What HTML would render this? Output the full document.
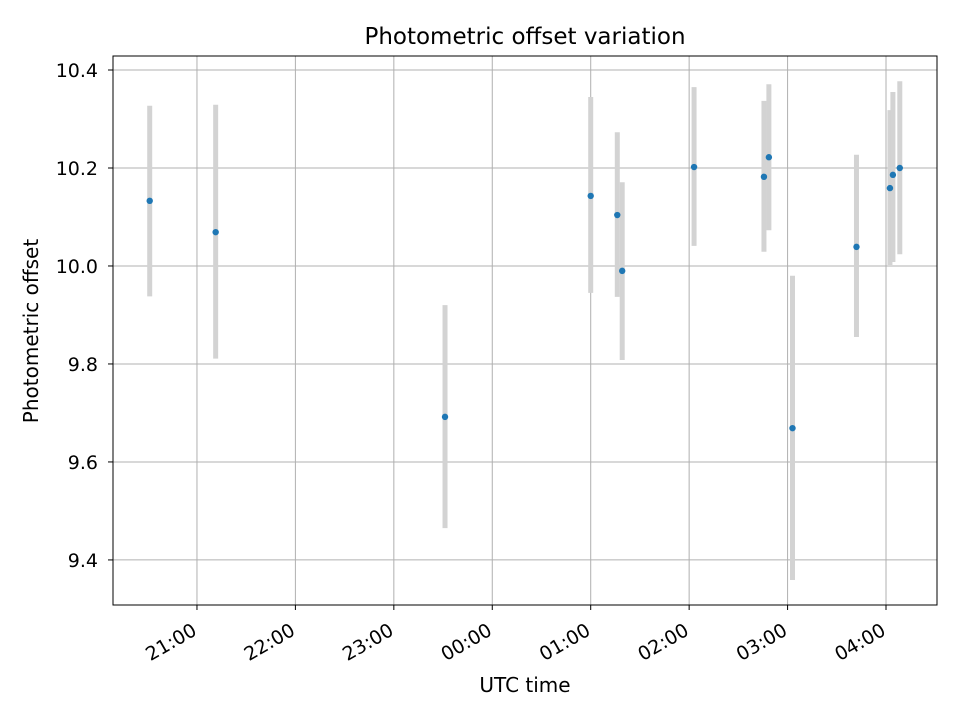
<!DOCTYPE html>
<html><head><meta charset="utf-8"><style>
body{margin:0;background:#fff;font-family:"DejaVu Sans","Liberation Sans",sans-serif}
</style></head><body>
<svg id="chart" width="960" height="720" xmlns="http://www.w3.org/2000/svg" font-family="'DejaVu Sans', 'Liberation Sans', sans-serif">
<rect width="960" height="720" fill="#fff"/>
<g id="grid"></g>
<g id="errs"></g>
<g id="pts"></g>
<rect x="113" y="56" width="824" height="549" fill="none" stroke="#000" stroke-width="1"/>
<g id="ticks"></g>
<text x="525" y="44" text-anchor="middle" font-size="23">Photometric offset variation</text>
<text x="525" y="692" text-anchor="middle" font-size="20">UTC time</text>
<text transform="translate(38,331) rotate(-90)" text-anchor="middle" font-size="20">Photometric offset</text>
</svg>
<script>
const times=[20.52,21.19,23.52,25.00,25.27,25.32,26.05,26.76,26.81,27.05,27.70,28.04,28.07,28.14];
const values=[10.133,10.069,9.692,10.143,10.104,9.990,10.202,10.182,10.222,9.669,10.039,10.159,10.186,10.200];
const errLo=[0.195,0.258,0.227,0.198,0.167,0.182,0.161,0.153,0.149,0.310,0.184,0.157,0.178,0.176];
const errHi=[0.194,0.260,0.228,0.202,0.169,0.181,0.163,0.155,0.149,0.311,0.188,0.159,0.169,0.177];
const xTicks=[21,22,23,24,25,26,27,28];
const xTickLabels=["21:00","22:00","23:00","00:00","01:00","02:00","03:00","04:00"];
const yTicks=[9.4,9.6,9.8,10.0,10.2,10.4];
const X0=113,X1=937,Y0=605,Y1=56;
const xMin=20.147,xMax=28.518,yMin=9.308,yMax=10.4286;
const sx=v=>X0+(v-xMin)/(xMax-xMin)*(X1-X0);
const sy=v=>Y0-(v-yMin)/(yMax-yMin)*(Y0-Y1);
const NS="http://www.w3.org/2000/svg";
function mk(t,a,p){const e=document.createElementNS(NS,t);for(const k in a)e.setAttribute(k,a[k]);p.appendChild(e);return e;}
const grid=document.getElementById('grid'),ticks=document.getElementById('ticks');
xTicks.forEach((t,i)=>{const x=sx(t);
 const g=mk('line',{x1:x,x2:x,y1:Y1,y2:Y0,stroke:'#b0b0b0','stroke-width':1},grid);
 
 
 const k=mk('line',{x1:x,x2:x,y1:Y0,y2:Y0+5,stroke:'#000'},ticks);
 
 
 const lx=x+1,ly=Y0+29;
 const l=mk('text',{x:lx,y:ly,'text-anchor':'end','font-size':19,transform:`rotate(-30 ${lx} ${ly})`},ticks);
 l.textContent=xTickLabels[i];
 
 
});
yTicks.forEach(t=>{const y=sy(t);
 const g=mk('line',{x1:X0,x2:X1,y1:y,y2:y,stroke:'#b0b0b0','stroke-width':1},grid);
 
 
 const k=mk('line',{x1:X0-5,x2:X0,y1:y,y2:y,stroke:'#000'},ticks);
 
 
 const l=mk('text',{x:X0-15,y:y+7,'text-anchor':'end','font-size':19},ticks);
 l.textContent=t.toFixed(1);
 
 
});
const errs=document.getElementById('errs'),pts=document.getElementById('pts');
times.forEach((t,i)=>{const x=sx(t);
 const e=mk('line',{x1:x,x2:x,y1:sy(values[i]+errHi[i]),y2:sy(values[i]-errLo[i]),stroke:'#d3d3d3','stroke-width':5},errs);
 
 
 const c=mk('circle',{cx:x,cy:sy(values[i]),r:3.2,fill:'#1f77b4'},pts);
 
 
});
</script>
</body></html>
